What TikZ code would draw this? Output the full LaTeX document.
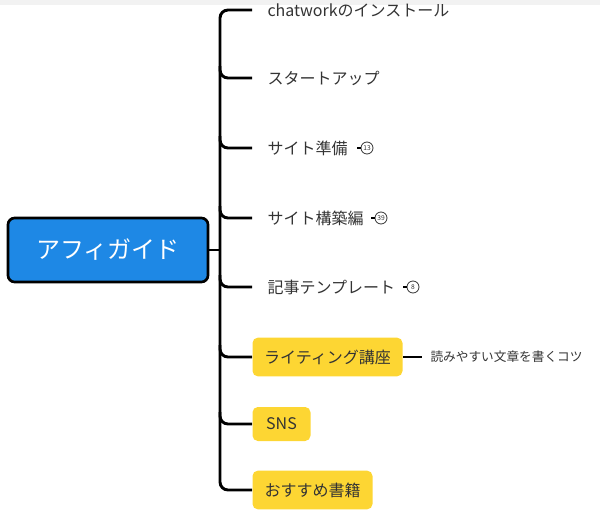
\documentclass[tikz,border=0pt]{standalone}
\usepackage{fontspec}
\setmainfont{Noto Sans CJK JP}
\usetikzlibrary{positioning}
\definecolor{rootblue}{RGB}{30,136,229}
\definecolor{topicyellow}{RGB}{253,214,51}
\definecolor{textgray}{RGB}{51,51,51}
\tikzset{every picture/.style={line width=0.75pt}}
\tikzset{
  branch/.style={line width=2.2pt, rounded corners=6pt},
  plain/.style={anchor=west, inner sep=0pt, text=textgray, font=\fontsize{12}{14}\selectfont},
  topic/.style={anchor=west, fill=topicyellow, rounded corners=4pt, inner sep=0pt, minimum height=29pt, text=textgray, font=\fontsize{12}{14}\selectfont},
  badge/.style={circle, draw=textgray, line width=0.6pt, inner sep=0pt, minimum size=9pt, font=\fontsize{5}{5}\selectfont, text=textgray},
}
\begin{document}
\begin{tikzpicture}[x=0.75pt,y=0.75pt,yscale=-1,xscale=1]
\useasboundingbox (0,0) rectangle (600,518);
% top strip
\fill [gray!10] (0,0) rectangle (600,5);

% Root
\node (root) [draw=black, line width=2pt, fill=rootblue, rounded corners=5pt, minimum width=150pt, minimum height=48pt, text=white, font=\fontsize{18}{20}\selectfont] at (108,250) {アフィガイド};

% Spine
\coordinate (sp) at (220,250);
\draw [branch] (root.east) -- (sp);
\draw [branch] (252,10) -- (220,10) -- (220,490) -- (252,490);
\foreach \y in {78,148,218,287,357,424} \draw [branch] (220,\y-12) -- (220,\y) -- (252,\y);

% Topics
\node (t1) [plain] at (267,10) {chatworkのインストール};
\node (t2) [plain] at (267,78) {スタートアップ};
\node (t3) [plain] at (267,148) {サイト準備};
\node (t4) [plain] at (267,218) {サイト構築編};
\node (t5) [plain] at (267,287) {記事テンプレート};
\node (t6) [topic, minimum width=112.5pt] at (252,357) {ライティング講座};
\node (t7) [topic, minimum width=43.5pt, minimum height=25.5pt] at (252,424) {SNS};
\node (t8) [topic, minimum width=90pt] at (252,490) {おすすめ書籍};

% Badges
\node (b3) [badge] at (367,148) {13};
\node (b4) [badge] at (381,218) {39};
\node (b5) [badge] at (413,287) {8};
\foreach \b in {b3,b4,b5} \draw [line width=1.2pt] (\b.west) -- ++(-4,0);

% Sub topic
\node (s1) [plain, font=\fontsize{9.5}{11}\selectfont] at (430,357) {読みやすい文章を書くコツ};
\draw [line width=2pt] (t6.east) -- ([xshift=-6pt]s1.west);

\end{tikzpicture}
\end{document}
